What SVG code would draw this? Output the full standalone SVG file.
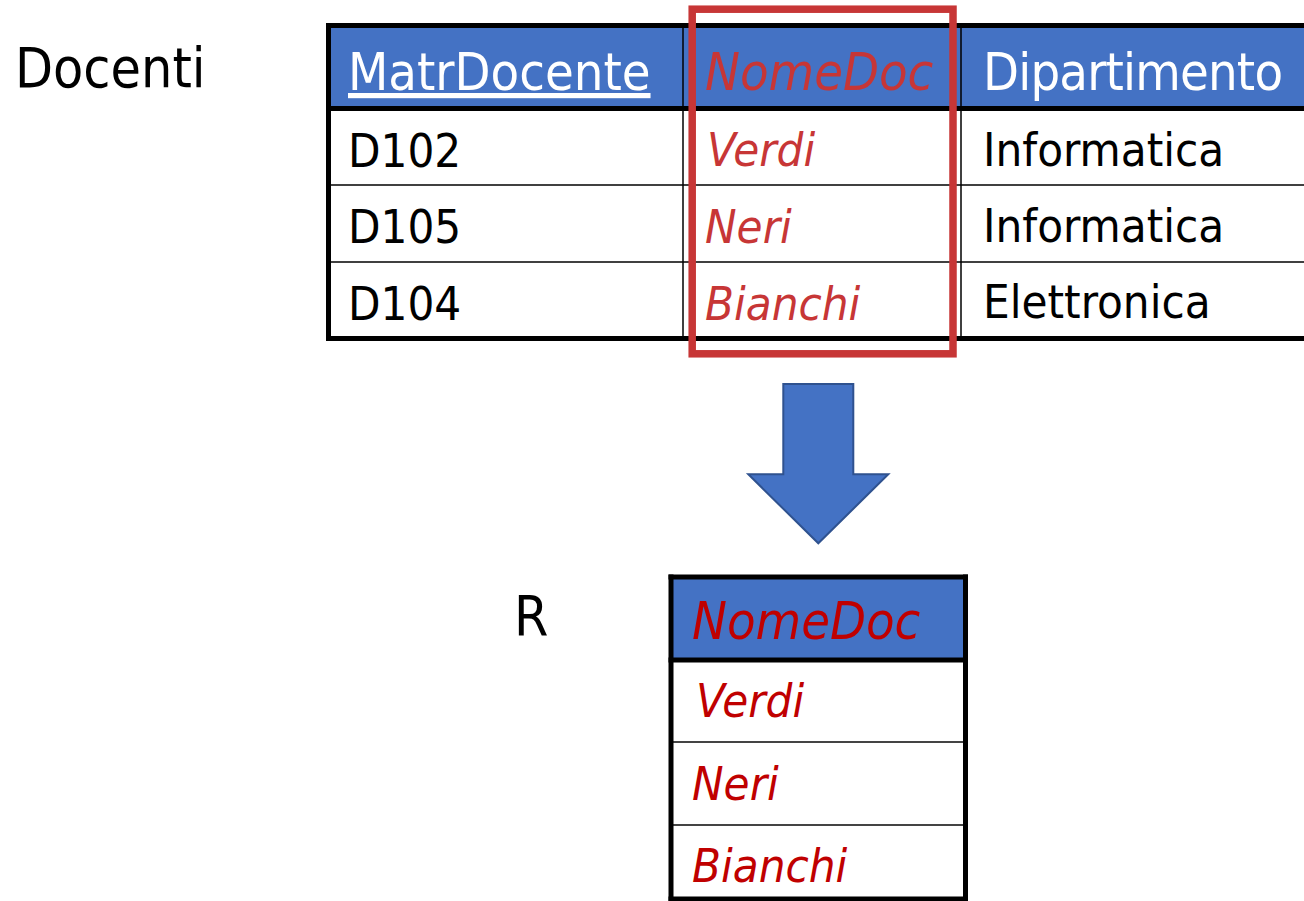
<svg xmlns="http://www.w3.org/2000/svg" width="1304" height="901" viewBox="0 0 1304 901">
  <style>
    text { font-family: "DejaVu Sans Condensed", "DejaVu Sans", "Liberation Sans", sans-serif; }
    .label { font-size: 55px; fill: #000; }
    .head { font-size: 52px; fill: #fff; }
    .cell { font-size: 47px; fill: #000; }
    .sel { font-style: italic; fill: #C73636; }
    .proj { font-style: italic; fill: #C00000; }
    .hdrfill { fill: #4472C4; }
    .thick { stroke: #000; stroke-width: 5; fill: none; }
    .thin { stroke: #000; stroke-width: 1.5; fill: none; }
    .rowline { stroke: #444; stroke-width: 2; fill: none; }
  </style>

  <rect width="1304" height="901" fill="#fff"/>

  <!-- relation name: Docenti -->
  <g id="docenti-label">
    <text class="label" x="15" y="87">Docenti</text>
  </g>

  <!-- Docenti table -->
  <g id="docenti-table">
    <rect class="hdrfill" x="328.5" y="25.5" width="990" height="83"/>
    <line class="thin" x1="330" y1="185" x2="1304" y2="185"/>
    <line class="thin" x1="330" y1="262" x2="1304" y2="262"/>
    <line class="thin" x1="683" y1="25" x2="683" y2="339"/>
    <line class="thin" x1="961" y1="25" x2="961" y2="339"/>
    <line class="thick" x1="326" y1="25.5" x2="1304" y2="25.5"/>
    <line class="thick" x1="326" y1="108.5" x2="1304" y2="108.5"/>
    <line class="thick" x1="326" y1="338.5" x2="1304" y2="338.5"/>
    <line class="thick" x1="328.5" y1="23" x2="328.5" y2="341"/>

    <text class="head" x="348" y="90" text-decoration="underline">MatrDocente</text>
    <text class="head sel" x="705" y="90">NomeDoc</text>
    <text class="head" x="983" y="90" textLength="300" lengthAdjust="spacing">Dipartimento</text>

    <text class="cell" x="348" y="167">D102</text>
    <text class="cell sel" x="707" y="166">Verdi</text>
    <text class="cell" x="983" y="166">Informatica</text>

    <text class="cell" x="348" y="243">D105</text>
    <text class="cell sel" x="705" y="243">Neri</text>
    <text class="cell" x="983" y="242">Informatica</text>

    <text class="cell" x="348" y="320">D104</text>
    <text class="cell sel" x="705" y="320">Bianchi</text>
    <text class="cell" x="983" y="318">Elettronica</text>
  </g>

  <!-- highlighted column -->
  <g id="selection-box">
    <rect x="692.2" y="9.2" width="260.8" height="344.6" fill="none" stroke="#C73636" stroke-width="7.5"/>
  </g>

  <!-- projection arrow -->
  <g id="connectors">
    <polygon points="783.3,384 853.3,384 853.3,474.3 888.3,474.3 818.3,543.3 748.3,474.3 783.3,474.3"
             fill="#4472C4" stroke="#2F528F" stroke-width="2" stroke-linejoin="miter"/>
  </g>

  <!-- result relation name: R -->
  <g id="r-label">
    <text class="label" x="514" y="635">R</text>
  </g>

  <!-- result table R -->
  <g id="r-table">
    <rect class="hdrfill" x="671" y="577" width="294.5" height="83"/>
    <line class="rowline" x1="673" y1="742" x2="963" y2="742"/>
    <line class="rowline" x1="673" y1="825" x2="963" y2="825"/>
    <line class="thick" x1="668.5" y1="577" x2="968" y2="577"/>
    <line class="thick" x1="668.5" y1="660" x2="968" y2="660"/>
    <line class="thick" x1="671" y1="574.5" x2="671" y2="901"/>
    <line class="thick" x1="965.5" y1="574.5" x2="965.5" y2="901"/>
    <line class="thick" x1="668.5" y1="899" x2="968" y2="899"/>

    <text class="head proj" x="692" y="639">NomeDoc</text>
    <text class="cell proj" x="696" y="717">Verdi</text>
    <text class="cell proj" x="692" y="800">Neri</text>
    <text class="cell proj" x="692" y="882">Bianchi</text>
  </g>
</svg>
